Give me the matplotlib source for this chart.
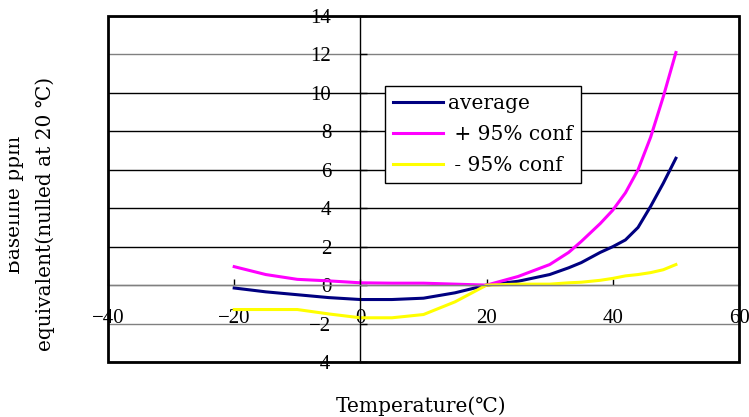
import matplotlib
matplotlib.use("Agg")
import matplotlib.pyplot as plt
from matplotlib.patches import Rectangle
from matplotlib.transforms import Bbox, TransformedBbox

# data
temps = [-20, -15, -10, -5, 0, 5, 10, 15, 20, 25, 30, 33, 35, 38, 40, 42, 44, 46, 48, 50]
average = [-0.15, -0.35, -0.5, -0.65, -0.75, -0.75, -0.68, -0.4, 0.0, 0.2, 0.55, 0.9, 1.17,
           1.7, 2.0, 2.35, 3.0, 4.1, 5.3, 6.6]
upper = [0.96, 0.55, 0.3, 0.22, 0.12, 0.1, 0.1, 0.05, 0.0, 0.45, 1.07, 1.7, 2.27,
         3.2, 3.9, 4.8, 6.0, 7.7, 9.8, 12.1]
lower = [-1.27, -1.27, -1.27, -1.5, -1.7, -1.7, -1.53, -0.87, 0.0, 0.05, 0.05, 0.12, 0.15,
         0.25, 0.35, 0.48, 0.55, 0.65, 0.8, 1.07]

series_labels = ["average", " + 95% conf", " - 95% conf"]
x_ticks = [-40, -20, 0, 20, 40, 60]
y_ticks = [-4, -2, 0, 2, 4, 6, 8, 10, 12, 14]

plt.rcParams['font.family'] = ['DejaVu Serif', 'Noto Sans CJK SC', 'DejaVu Sans']
FS = 14.5
TICK_FONT = ['Liberation Serif', 'DejaVu Serif']

fig = plt.figure(figsize=(7.49, 4.17), dpi=100)
W, H = 749, 417
ax = fig.add_axes([108 / W, 1 - 362 / H, (739 - 108) / W, (362 - 16) / H])

ax.plot(temps, average, color='#000080', lw=2.2, label=series_labels[0])
ax.plot(temps, upper, color='#FF00FF', lw=2.2, label=series_labels[1])
ax.plot(temps, lower, color='#FFFF00', lw=2.2, label=series_labels[2])

ax.set_xlim(-40, 60)
ax.set_ylim(-4, 14)
ax.set_xticks(x_ticks)
ax.set_yticks(y_ticks)

# horizontal gridlines
for yv in y_ticks:
    c = '#808080' if yv in (12, 0, -2) else 'black'
    ax.axhline(yv, color=c, lw=1, zorder=0.5)

# axes crossing at zero
ax.spines['top'].set_visible(False)
ax.spines['right'].set_visible(False)
ax.spines['left'].set_position(('data', 0))
ax.spines['bottom'].set_position(('data', 0))
ax.spines['left'].set_linewidth(1)
ax.spines['bottom'].set_linewidth(1)
ax.spines['bottom'].set_color('#808080')
ax.tick_params(axis='x', direction='in', length=4.5, width=1, pad=17, labelsize=15)
ax.tick_params(axis='y', direction='in', length=5, width=1, pad=21, labelsize=15)
for lbl in ax.get_xticklabels() + ax.get_yticklabels():
    lbl.set_family(TICK_FONT)
for lbl in ax.get_yticklabels():
    lbl.set_verticalalignment('center_baseline')

# outer frame
ax.add_patch(Rectangle((0, 0), 1, 1, transform=ax.transAxes, fill=False,
                       edgecolor='black', lw=2, clip_on=False, zorder=5))

leg = ax.legend(loc='upper left', bbox_to_anchor=(385 / W, 1 - 86 / H),
                bbox_transform=fig.transFigure, fontsize=FS, frameon=True,
                fancybox=False, framealpha=1, edgecolor='black', borderaxespad=0,
                handlelength=2.5, handletextpad=0.25, labelspacing=0.6, borderpad=0.4)
leg.get_frame().set_linewidth(1)

fig.text(421 / W, 1 - 406 / H, "Temperature(℃)", ha='center', va='center', fontsize=FS)

# y label, partly clipped as in the original
clip = TransformedBbox(Bbox([[9 / W, 61 / H], [0.12, 1.0]]), fig.transFigure)
for xpix, ypix, txt in [(15, 205, "Baseline ppm"), (45, 214, "equivalent(nulled at 20 ℃)")]:
    t = fig.text(xpix / W, 1 - ypix / H, txt, rotation=90, ha='center', va='center',
                 fontsize=FS)
    t.set_clip_box(clip)
    t.set_clip_on(True)

fig.savefig("out.png", dpi=100)
